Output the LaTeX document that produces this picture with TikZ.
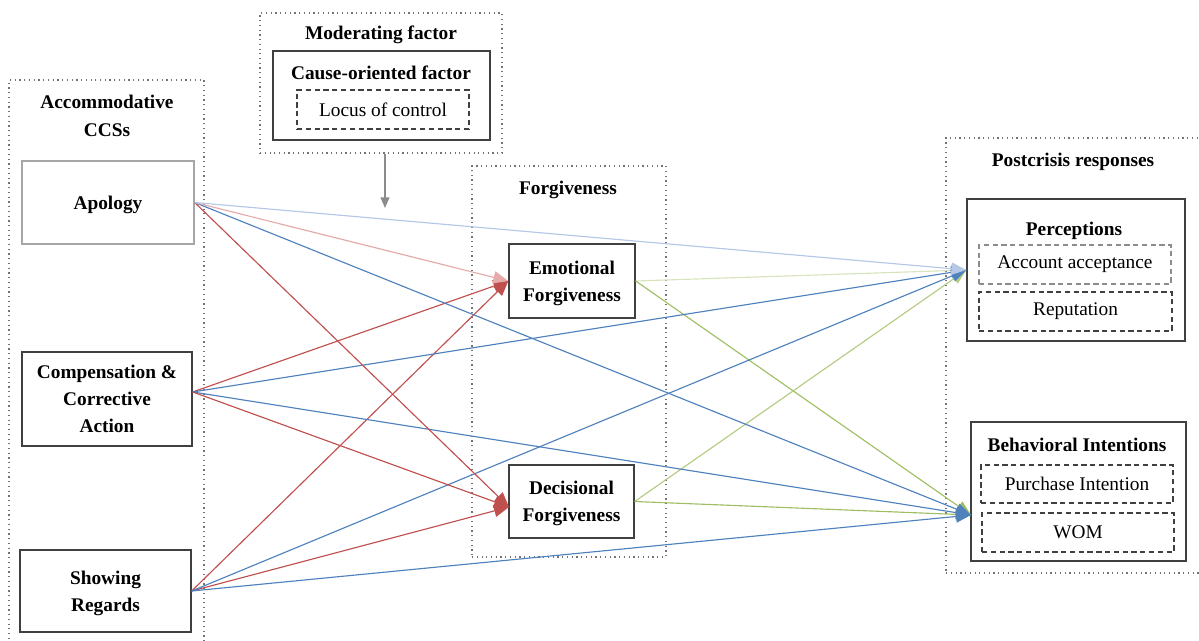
\documentclass[tikz,border=0pt]{standalone}
\usepackage{fontspec}
\setmainfont{Liberation Serif}
\usetikzlibrary{arrows.meta}

\definecolor{lblue}{RGB}{180,199,231}
\definecolor{mblue}{RGB}{79,129,189}
\definecolor{lred}{RGB}{230,170,170}
\definecolor{mred}{RGB}{192,80,77}
\definecolor{lgreen}{RGB}{215,228,189}
\definecolor{mgreen}{RGB}{160,190,100}

\newcommand{\figfont}{\fontsize{11}{15.5}\selectfont}

\tikzset{
  outer/.style={draw=black!55, dotted, line width=0.7pt, inner sep=0pt},
  box/.style={draw=black!75, line width=0.8pt, inner sep=0pt, align=center, text depth=0pt, font=\figfont\bfseries},
  item/.style={draw=black!75, dash pattern=on 3pt off 2pt, line width=0.7pt, inner sep=0pt, font=\figfont},
  title/.style={align=center, font=\figfont\bfseries},
  link/.style={line width=0.65pt, -{Triangle[length=8.5pt,width=7pt]}},
}

\begin{document}
\begin{tikzpicture}[x=0.02cm,y=-0.02cm]
\useasboundingbox (0,0) rectangle (1199,641) ;

\node[outer, minimum width=3.9cm, minimum height=11.6cm] (ccs) at (106.5,370) {} ;
\node[outer, minimum width=4.84cm, minimum height=2.8cm] (mod) at (381,83) {} ;
\node[outer, minimum width=3.88cm, minimum height=7.82cm] (forg) at (569,361.5) {} ;
\node[outer, minimum width=5.38cm, minimum height=8.7cm] (post) at (1080.5,355.5) {} ;

\node[title] (ccst) at (107,116) {Accommodative\\CCSs} ;
\node[title] (modt) at (381,35) {Moderating factor} ;
\node[title] (forgt) at (568,190) {Forgiveness} ;
\node[title] (postt) at (1073,162) {Postcrisis responses} ;

\node[box, draw=black!35, minimum width=3.44cm, minimum height=1.66cm] (apol) at (108,202.5) {Apology} ;
\node[box, minimum width=3.4cm, minimum height=1.88cm] (comp) at (107,399) {Compensation \&\\Corrective\\Action} ;
\node[box, minimum width=3.42cm, minimum height=1.64cm] (show) at (105.5,591) {Showing\\Regards} ;

\node[box, minimum width=4.34cm, minimum height=1.78cm] (cause) at (381.5,95.5) {} ;
\node[title] (causet) at (381,73) {Cause-oriented factor} ;
\node[item, minimum width=3.44cm, minimum height=0.78cm] (locus) at (383,109.5) {Locus of control} ;

\node[box, minimum width=2.52cm, minimum height=1.48cm] (emo) at (572,281) {Emotional\\Forgiveness} ;
\node[box, minimum width=2.5cm, minimum height=1.46cm] (dec) at (571.5,501.5) {Decisional\\Forgiveness} ;

\node[box, minimum width=4.36cm, minimum height=2.84cm] (perc) at (1076,270) {} ;
\node[title] (perct) at (1074,231) {Perceptions} ;
\node[item, draw=black!45, minimum width=3.84cm, minimum height=0.78cm] (accept) at (1075,264.5) {Account acceptance} ;
\node[item, minimum width=3.86cm, minimum height=0.78cm] (repu) at (1075.5,311.5) {Reputation} ;

\node[box, minimum width=4.3cm, minimum height=2.78cm] (behav) at (1078.5,491.5) {} ;
\node[title] (behavt) at (1077,445) {Behavioral Intentions} ;
\node[item, minimum width=3.84cm, minimum height=0.76cm] (purch) at (1077,484) {Purchase Intention} ;
\node[item, minimum width=3.84cm, minimum height=0.78cm] (wom) at (1078,532.5) {WOM} ;

\coordinate (modin) at (385,208) ;
\coordinate (behin) at (971,515) ;
\coordinate (decin) at (509,507) ;

\draw[line width=0.8pt, black!45, -{Triangle[length=6pt,width=5pt]}] (mod.south -| modin) -- (modin) ;

\draw[link, lgreen] (emo.east) -- (perc.west) ;
\draw[link, mgreen] (emo.east) -- (behin) ;
\draw[link, mgreen!80] (dec.east) -- (perc.west) ;
\draw[link, mgreen] (dec.east) -- (behin) ;

\draw[link, mred] (show.east) -- (emo.west) ;
\draw[link, mred] (show.east) -- (decin) ;
\draw[link, mblue] (show.east) -- (perc.west) ;
\draw[link, mblue] (show.east) -- (behin) ;

\draw[link, mred] ([yshift=4pt]comp.east) -- (emo.west) ;
\draw[link, mblue] ([yshift=4pt]comp.east) -- (perc.west) ;
\draw[link, mblue] ([yshift=4pt]comp.east) -- (behin) ;
\draw[link, mred] ([yshift=4pt]comp.east) -- (decin) ;

\draw[link, mred] (apol.east) -- (decin) ;
\draw[link, mblue] (apol.east) -- (behin) ;
\draw[link, lred] (apol.east) -- (emo.west) ;
\draw[link, lblue] (apol.east) -- (perc.west) ;

\end{tikzpicture}
\end{document}
